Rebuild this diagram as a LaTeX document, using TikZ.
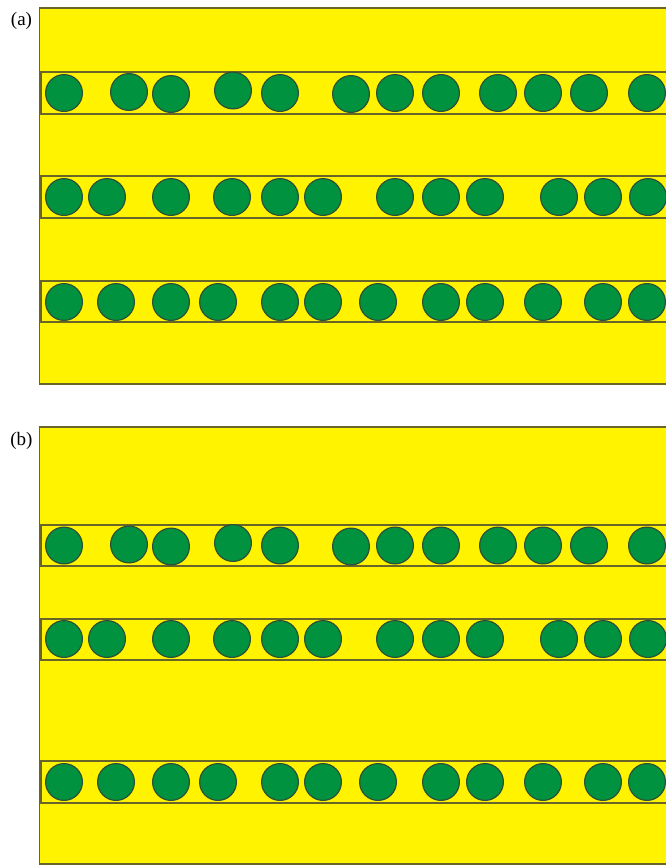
\documentclass[tikz,border=0pt]{standalone}
\usepackage{fontspec}
\setmainfont{Liberation Serif}
\definecolor{lay}{RGB}{255,243,0}
\definecolor{pg}{RGB}{0,146,63}
\definecolor{edgec}{RGB}{105,100,40}
\definecolor{cedge}{RGB}{45,80,55}
\begin{document}
\begin{tikzpicture}[x=1pt,y=-1pt,
  layer/.style={fill=lay,draw=edgec,line width=1.3pt},
  pcirc/.style={fill=pg,draw=cedge,line width=1.2pt},
  lab/.style={font=\fontsize{19}{19}\selectfont,inner sep=0pt}]
\useasboundingbox (0,0) rectangle (666,865);
\begin{scope}
\clip (0,0) rectangle (666,865);
% panel (a)
\draw[layer] (39.5,8) rectangle (690,384);
\draw[layer] (41,72) rectangle (690,114);
\draw[layer] (41,176) rectangle (690,218);
\draw[layer] (41,281) rectangle (690,322);
\foreach \x/\y in {64/93,129/92,171/94,233/90.5,280/93,351/94,395/93,441/93,498/93,543/93,589/93,647/93}
  \draw[pcirc] (\x,\y) circle (18.4);
\foreach \x in {64,107,171,232,280,323,395,441,485,559,603,648}
  \draw[pcirc] (\x,197) circle (18.4);
\foreach \x in {64,116,171,218,280,323,378,441,485,543,603,647}
  \draw[pcirc] (\x,302) circle (18.4);
% panel (b)
\draw[layer] (39.5,427) rectangle (690,864);
\draw[layer] (41,525) rectangle (690,566);
\draw[layer] (41,619) rectangle (690,660);
\draw[layer] (41,761) rectangle (690,803);
\foreach \x/\y in {64/93,129/92,171/94,233/90.5,280/93,351/94,395/93,441/93,498/93,543/93,589/93,647/93}
  \draw[pcirc] (\x,\y+452.5) circle (18.4);
\foreach \x in {64,107,171,232,280,323,395,441,485,559,603,648}
  \draw[pcirc] (\x,639) circle (18.4);
\foreach \x in {64,116,171,218,280,323,378,441,485,543,603,647}
  \draw[pcirc] (\x,782) circle (18.4);
\end{scope}
\node[lab] (la) at (21.5,21) {(a)};
\node[lab] (lb) at (21.5,441) {(b)};
\end{tikzpicture}
\end{document}
